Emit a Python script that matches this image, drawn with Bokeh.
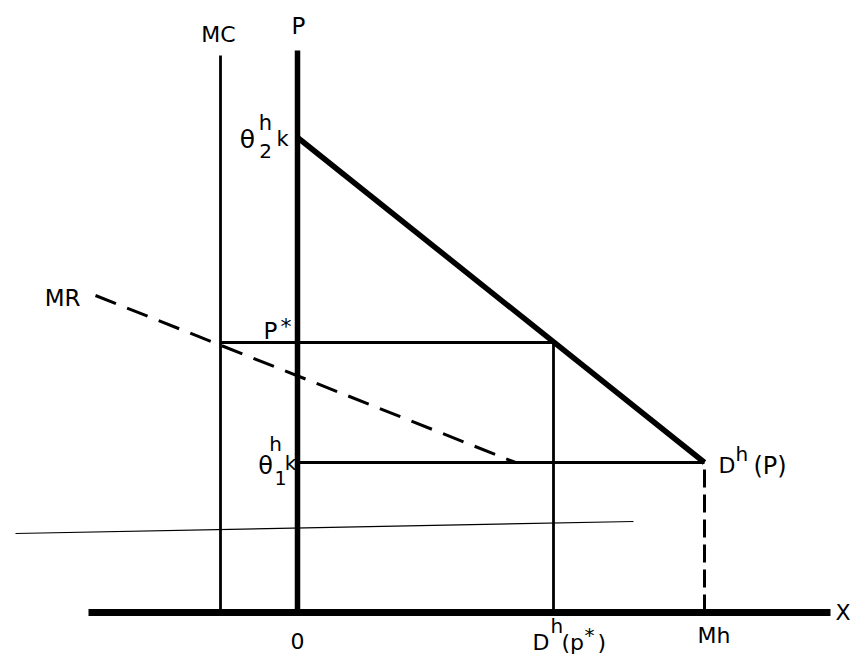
from bokeh.plotting import figure
from bokeh.models import Range1d
from bokeh.embed import file_html
from bokeh.resources import INLINE
from bokeh.core.properties import value

# ---- data (quantity on x, price on y) ----
axis_x_extent = [-20.9, 53.3]        # X axis
axis_p_top = 56.2                    # P axis top
mc_q = -7.7                          # MC vertical line
mc_top = 55.7
demand_q = [0.0, 40.7]               # D^h(P)
demand_p = [47.5, 15.0]              # theta2 k -> theta1 k
pstar = 27.0
q_pstar = 25.6                       # D^h(p*)
theta1k = 15.0
mh = 40.7
mr_q = [-20.2, 21.8]
mr_p = [31.7, 15.0]
stray_q = [-28.2, 33.6]
stray_p = [7.9, 9.1]

FONT = value("DejaVu Sans")

p = figure(width=850, height=658, output_backend="svg", toolbar_location=None,
           x_range=Range1d(-29.7, 55.3), y_range=Range1d(-4.6, 61.2),
           min_border=0)
p.axis.visible = False
p.grid.visible = False
p.outline_line_color = None
p.background_fill_color = "white"
p.border_fill_color = "white"

K = "black"
# thin stray scan line
p.line(stray_q, stray_p, line_color=K, line_width=1.2)
# X axis
p.line(axis_x_extent, [0, 0], line_color=K, line_width=7)
# P axis
p.line([0, 0], [0, axis_p_top], line_color=K, line_width=5.5)
# MC
p.line([mc_q, mc_q], [0, mc_top], line_color=K, line_width=2.8)
# demand
p.line(demand_q, demand_p, line_color=K, line_width=5.5)
# P* horizontal
p.line([mc_q, q_pstar], [pstar, pstar], line_color=K, line_width=2.8)
# D^h(p*) vertical
p.line([q_pstar, q_pstar], [0, pstar], line_color=K, line_width=2.8)
# theta1 k horizontal
p.line([0, mh], [theta1k, theta1k], line_color=K, line_width=3)
# Mh dashed
p.line([mh, mh], [0, theta1k], line_color=K, line_width=3, line_dash="18 7")
# MR dashed
p.line(mr_q, mr_p, line_color=K, line_width=3, line_dash="22 12")

SHIFT = -8  # correction for rendered baseline


def lab(x, y, t, dx, dy, size=22, align="left", base="alphabetic"):
    if base == "alphabetic":
        dy = dy + SHIFT
    p.text(x=[x], y=[y], text=[t], x_offset=dx, y_offset=dy,
           text_font=FONT, text_font_size=f"{size}px", text_color=K,
           text_align=align, text_baseline=base)


lab(0, axis_p_top, "P", 1, -17, 23, "center")
lab(mc_q, mc_top, "MC", -2, -13, 22, "center")
# theta2 k
lab(0, demand_p[0], "θ", -50, 10, 25, "center")
lab(0, demand_p[0], "h", -32, -7, 21, "center")
lab(0, demand_p[0], "2", -32, 21, 20, "center")
lab(0, demand_p[0], "k", -15, 9, 21, "center")
# theta1 k
lab(0, theta1k, "θ", -32, 11, 24, "center")
lab(0, theta1k, "h", -22, -11, 20, "center")
lab(0, theta1k, "1", -17, 23, 19, "center")
lab(0, theta1k, "k", -7, 8, 20, "center")
# P*
lab(0, pstar, "P", -34, -4, 23)
lab(0, pstar, "*", -17, -8, 22)
# MR
lab(mr_q[0], mr_p[0], "MR", -15, 10, 23, "right")
# D^h(P)
lab(mh, theta1k, "D", 14, 11, 22)
lab(mh, theta1k, "h", 31, -1, 20)
lab(mh, theta1k, "(P)", 49, 11, 24)
# axis labels
lab(0, 0, "0", 0, 36, 22, "center")
lab(q_pstar, 0, "D", -21, 38, 22)
lab(q_pstar, 0, "h", -3, 21, 20)
lab(q_pstar, 0, "(p", 8, 38, 22)
lab(q_pstar, 0, "*", 31, 30, 20)
lab(q_pstar, 0, ")", 44, 38, 22)
lab(mh, 0, "Mh", -7, 31, 22)
lab(axis_x_extent[1], 0, "X", 5, 0, 22, "left", "middle")

open("out.html", "w").write(file_html(p, INLINE))
